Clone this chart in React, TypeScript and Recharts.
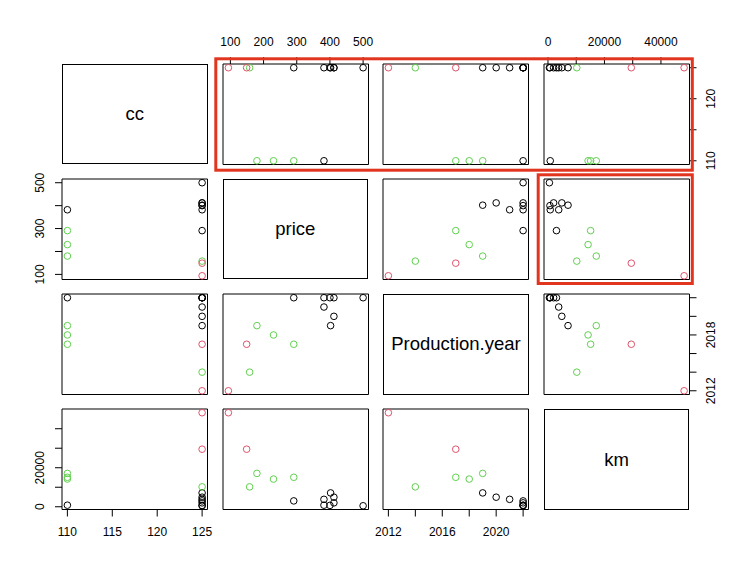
import { ReferenceArea, Scatter, ScatterChart, XAxis, YAxis } from "recharts";

// one entry per bike, same order in every array
const cc = [125, 110, 125, 125, 125, 125, 125, 125, 125, 110, 110, 110, 125, 125];
const price = [291, 382, 400, 412, 500, 382, 412, 402, 158, 180, 230, 291, 149, 94];
const productionYear = [2022, 2022, 2022, 2022, 2022, 2021, 2020, 2019, 2014, 2019, 2018, 2017, 2017, 2012];
const km = [3000, 800, 700, 2000, 500, 3800, 4900, 7100, 10200, 17100, 14200, 15100, 29500, 48200];
const group = [1, 1, 1, 1, 1, 1, 1, 1, 3, 3, 3, 3, 2, 2];

const ccTicks = [110, 115, 120, 125];
const priceTicks = [100, 200, 300, 400, 500];
const yearTicks = [2012, 2014, 2016, 2018, 2020, 2022];
const kmTicks = [0, 10000, 20000, 30000, 40000];

// labels that survive overlap checks on each outer axis
const tickLabels: Record<string, number[]> = {
  "price-top": [100, 200, 300, 400, 500],
  "km-top": [0, 20000, 40000],
  "cc-right": [110, 120],
  "Production.year-right": [2012, 2018],
  "price-left": [100, 300, 500],
  "km-left": [0, 20000],
  "cc-bottom": [110, 115, 120, 125],
  "Production.year-bottom": [2012, 2016, 2020],
};

const groupColor: Record<number, string> = { 1: "#000000", 2: "#DF536B", 3: "#61D04F" };

const vars = [
  { key: "cc", values: cc, ticks: ccTicks },
  { key: "price", values: price, ticks: priceTicks },
  { key: "Production.year", values: productionYear, ticks: yearTicks },
  { key: "km", values: km, ticks: kmTicks },
];

const rows = cc.map((_, i) => ({
  cc: cc[i],
  price: price[i],
  "Production.year": productionYear[i],
  km: km[i],
  group: group[i],
}));

const FONT = "'Liberation Sans', Arial, sans-serif";
const COL_X = [62, 222.6, 383.2, 543.8];
const ROW_Y = [63.5, 178.8, 294.1, 409.4];
const W = 145.5;
const H = 100.5;
const PAD = 34;

function lims(values: number[]): [number, number] {
  const lo = Math.min(...values);
  const hi = Math.max(...values);
  const ext = (hi - lo) * 0.04;
  return [lo - ext, hi + ext];
}

function makeTick(side: string, shown: number[]) {
  return (props: any) => {
    const { x, y, payload } = props;
    if (!shown.includes(payload.value)) return <g />;
    const vertical = side === "left" || side === "right";
    return (
      <text
        x={x}
        y={y}
        textAnchor="middle"
        dominantBaseline="central"
        fontSize={12}
        fontFamily={FONT}
        fill="#000"
        transform={vertical ? `rotate(-90 ${x} ${y})` : undefined}
      >
        {payload.value}
      </text>
    );
  };
}

function PairCell({ i, j }: { i: number; j: number }) {
  const xv = vars[j];
  const yv = vars[i];
  const xDom = lims(xv.values);
  const yDom = lims(yv.values);

  const top = i === 0 && j % 2 === 1;
  const bottom = i === 3 && j % 2 === 0;
  const left = j === 0 && i % 2 === 1;
  const right = j === 3 && i % 2 === 0;
  const xSide = top ? "top" : bottom ? "bottom" : null;
  const ySide = left ? "left" : right ? "right" : null;

  return (
    <div style={{ position: "absolute", left: COL_X[j] - PAD, top: ROW_Y[i] - PAD }}>
      <ScatterChart
        width={W + PAD * 2}
        height={H + PAD * 2}
        margin={{ top: top ? 0 : PAD, bottom: bottom ? 0 : PAD, left: left ? 0 : PAD, right: right ? 0 : PAD }}
      >
        <XAxis
          type="number"
          dataKey={xv.key}
          domain={xDom}
          ticks={xv.ticks}
          interval={0}
          hide={!xSide}
          orientation={xSide === "top" ? "top" : "bottom"}
          height={PAD}
          axisLine={false}
          tickLine={{ stroke: "#000" }}
          tickSize={7}
          tickMargin={15}
          tick={xSide ? makeTick(xSide, tickLabels[`${xv.key}-${xSide}`]) : false}
        />
        <YAxis
          type="number"
          dataKey={yv.key}
          domain={yDom}
          ticks={yv.ticks}
          interval={0}
          hide={!ySide}
          orientation={ySide === "right" ? "right" : "left"}
          width={PAD}
          axisLine={false}
          tickLine={{ stroke: "#000" }}
          tickSize={7}
          tickMargin={15}
          tick={ySide ? makeTick(ySide, tickLabels[`${yv.key}-${ySide}`]) : false}
        />
        <ReferenceArea x1={xDom[0]} x2={xDom[1]} y1={yDom[0]} y2={yDom[1]} fill="none" stroke="#000" strokeWidth={1} fillOpacity={0} />
        <Scatter
          data={rows}
          isAnimationActive={false}
          shape={(p: any) => (
            <circle cx={p.cx} cy={p.cy} r={3.3} fill="none" stroke={groupColor[p.payload.group]} strokeWidth={1} />
          )}
        />
      </ScatterChart>
    </div>
  );
}

function LabelCell({ i }: { i: number }) {
  return (
    <div
      style={{
        position: "absolute",
        left: COL_X[i],
        top: ROW_Y[i],
        width: W,
        height: H,
        boxSizing: "border-box",
        border: "1px solid #000",
        display: "flex",
        alignItems: "center",
        justifyContent: "center",
        fontFamily: FONT,
        fontSize: 18.5,
        color: "#000",
      }}
    >
      {vars[i].key}
    </div>
  );
}

export default function App() {
  const cells = [];
  for (let i = 0; i < 4; i++) {
    for (let j = 0; j < 4; j++) {
      cells.push(i === j ? <LabelCell key={`${i}-${j}`} i={i} /> : <PairCell key={`${i}-${j}`} i={i} j={j} />);
    }
  }
  return (
    <div style={{ position: "absolute", left: 0, top: 0, width: 750, height: 564, background: "#fff", overflow: "hidden" }}>
      {cells}
      {/* highlight boxes drawn over the matrix */}
      <svg width={750} height={564} style={{ position: "absolute", left: 0, top: 0, pointerEvents: "none" }}>
        <rect x={215.8} y={58.8} width={476.5} height={111.4} fill="none" stroke="#e2351f" strokeWidth={3} />
        <rect x={538.2} y={174.8} width={154.1} height={108.7} fill="none" stroke="#e2351f" strokeWidth={3} />
      </svg>
    </div>
  );
}
